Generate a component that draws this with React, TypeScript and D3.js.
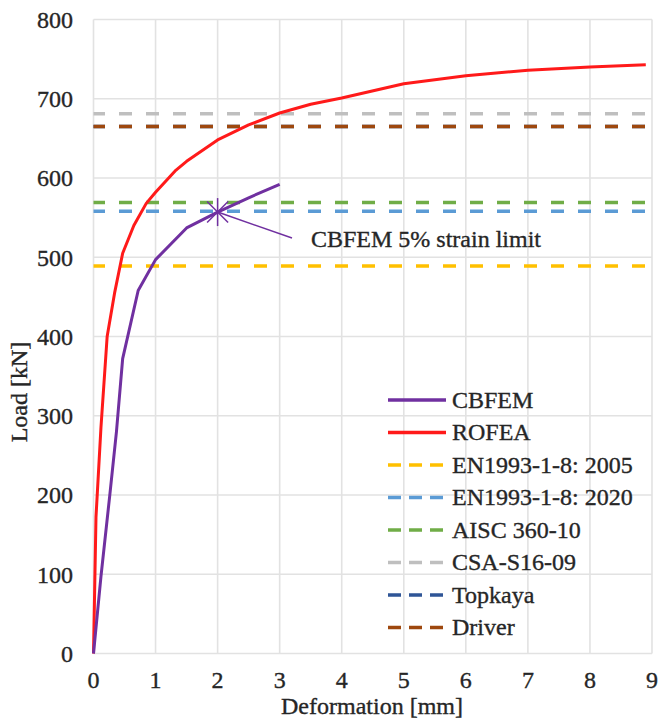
import React from 'react';
import * as d3 from 'd3';

// CBFEM curve (deformation mm, load kN)
const cbfemX = [0, 0.12, 0.26, 0.37, 0.47, 0.72, 1.0, 1.5, 2.0, 2.5, 3.0];
const cbfemY = [0, 97, 198, 280, 372, 458, 497, 537, 557, 575, 592];

// ROFEA curve
const rofeaX = [0, 0.04, 0.12, 0.22, 0.34, 0.47, 0.65, 0.85, 1.0, 1.33, 1.5, 2.0, 2.5, 3.0, 3.5, 4.0, 5.0, 6.0, 7.0, 8.0, 8.9];
const rofeaY = [0, 172, 285, 400, 455, 505, 540, 568, 582, 610, 621, 648, 667, 682, 693, 701, 719, 729, 736, 740, 743];

// design resistances (horizontal dashed lines)
const designNames = ['EN1993-1-8: 2005', 'EN1993-1-8: 2020', 'AISC 360-10', 'CSA-S16-09', 'Topkaya', 'Driver'];
const designValues = [489, 558, 569, 681, 665, 665];
const designColors = ['#ffc000', '#5b9bd5', '#70ad47', '#bfbfbf', '#2f5597', '#9e480e'];

const xTicks = [0, 1, 2, 3, 4, 5, 6, 7, 8, 9];
const yTicks = [0, 100, 200, 300, 400, 500, 600, 700, 800];

const strainLimit = { x: 2.0, y: 557 };

const width = 658;
const height = 725;
const txt = { fontFamily: "'Liberation Serif'" };
const ink = '#262626';

const App = () => {
  const x = d3.scaleLinear().domain([0, 9]).range([93.5, 652]);
  const y = d3.scaleLinear().domain([0, 800]).range([653.5, 19.5]);

  const line = d3.line<[number, number]>()
    .x(d => x(d[0]))
    .y(d => y(d[1]));

  const cbfem = cbfemX.map((v, i) => [v, cbfemY[i]] as [number, number]);
  const rofea = rofeaX.map((v, i) => [v, rofeaY[i]] as [number, number]);

  const legend = [
    { name: 'CBFEM', color: '#7030a0', dash: null },
    { name: 'ROFEA', color: '#ff1a1a', dash: null },
    ...designNames.map((n, i) => ({ name: n, color: designColors[i], dash: '13 8' })),
  ];

  const mx = x(strainLimit.x);
  const my = y(strainLimit.y);
  const r = 14;

  return (
    <svg width={width} height={height} style={{ position: 'absolute', left: 0, top: 0, background: '#fff' }}>
      {/* grid */}
      {xTicks.map(t => (
        <line key={'gx' + t} x1={x(t)} x2={x(t)} y1={y(0)} y2={y(800)} stroke="#e2e2e2" strokeWidth={1.6} />
      ))}
      {yTicks.map(t => (
        <line key={'gy' + t} x1={x(0)} x2={x(9)} y1={y(t)} y2={y(t)} stroke="#e2e2e2" strokeWidth={1.6} />
      ))}

      <g style={txt} fontSize={24} fill={ink} stroke={ink} strokeWidth={0.35}>
        {/* tick labels */}
        {yTicks.map(t => (
          <text key={'ty' + t} x={73} y={y(t)} dy="0.35em" textAnchor="end">{t}</text>
        ))}
        {xTicks.map(t => (
          <text key={'tx' + t} x={x(t)} y={688} textAnchor="middle">{t}</text>
        ))}
        <text x={372} y={714} textAnchor="middle">Deformation [mm]</text>
        <text transform="translate(27, 392) rotate(-90)" textAnchor="middle">Load [kN]</text>
      </g>

      {/* design resistances */}
      {designValues.map((v, i) => (
        <line key={'d' + i} x1={x(0)} x2={x(9) - 4} y1={y(v)} y2={y(v)}
          stroke={designColors[i]} strokeWidth={3.5} strokeDasharray="13 14" strokeDashoffset={1.5} />
      ))}

      {/* curves */}
      <path d={line(rofea) ?? ''} fill="none" stroke="#ff1a1a" strokeWidth={3} strokeLinejoin="round" />
      <path d={line(cbfem) ?? ''} fill="none" stroke="#7030a0" strokeWidth={3} strokeLinejoin="round" />

      {/* 5% strain limit marker */}
      <g stroke="#7030a0" strokeWidth={1.5} fill="none">
        <line x1={mx} x2={mx} y1={my - r} y2={my + r} />
        <line x1={mx - r * 0.75} x2={mx + r * 0.75} y1={my - r * 0.75} y2={my + r * 0.75} />
        <line x1={mx - r * 0.75} x2={mx + r * 0.75} y1={my + r * 0.75} y2={my - r * 0.75} />
        <line x1={mx} x2={292} y1={my} y2={238} />
      </g>
      <text style={txt} x={311} y={247} fontSize={24} fill={ink} stroke={ink} strokeWidth={0.35}>CBFEM 5% strain limit</text>

      {/* legend */}
      {legend.map((d, i) => {
        const ly = 400 + i * 32.5;
        return (
          <g key={'l' + i}>
            <line x1={388} x2={446} y1={ly} y2={ly} stroke={d.color} strokeWidth={3.5}
              strokeDasharray={d.dash ?? undefined} />
            <text style={txt} x={452} y={ly} dy="0.33em" fontSize={24} fill={ink} stroke={ink} strokeWidth={0.35}>{d.name}</text>
          </g>
        );
      })}
    </svg>
  );
};

export default App;
